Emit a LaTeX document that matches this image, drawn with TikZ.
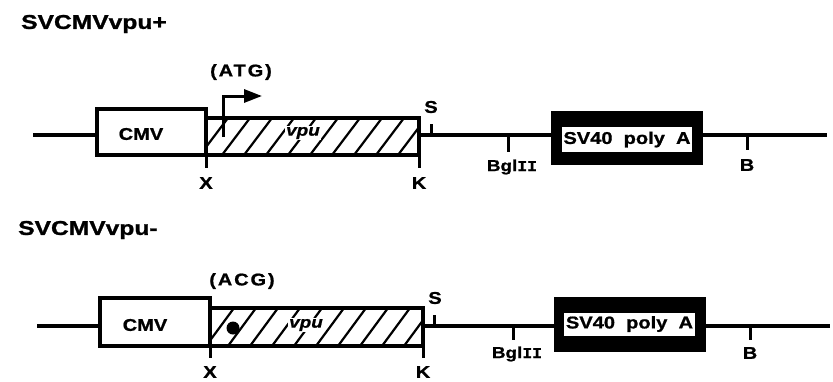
\documentclass[tikz,border=0pt]{standalone}
\usepackage{fontspec}
\usetikzlibrary{arrows.meta,calc}
\newfontfamily\wfA[FakeStretch=1.23,BoldFeatures={FakeBold=1.2}]{Liberation Sans}
\newfontfamily\wfB[FakeStretch=1.18,BoldFeatures={FakeBold=1},BoldItalicFeatures={FakeBold=1}]{Liberation Sans}
\newfontfamily\wfmono[FakeStretch=1.1,BoldFeatures={FakeBold=1}]{Liberation Mono}
\newcommand{\fsz}[1]{\fontsize{#1}{#1}\selectfont}
\tikzset{
  dna/.style={line width=3.5pt},
  tick/.style={line width=3pt},
  box/.style={draw, line width=3.5pt, fill=white, inner sep=0pt, outer sep=0pt},
  lbl/.style={inner sep=0pt, font=\wfB\bfseries\fsz{17}},
  ttl/.style={inner sep=0pt, anchor=west, font=\wfA\bfseries\fsz{20}},
  hatch/.style={line width=2.2pt},
  spaced/.style={inner sep=0pt, font=\wfB\bfseries\fsz{17}\addfontfeature{LetterSpace=11}},
}
\newcommand{\bgl}{Bgl{\wfmono\bfseries\fsz{15}II}}
\begin{document}
\begin{tikzpicture}[x=1pt,y=-1pt]
\useasboundingbox (0,0) rectangle (833,381);
% ---------- top construct ----------
\node[ttl] (t1) at (21,24) {SVCMVvpu+};
\coordinate (L1) at (33,135);
\coordinate (R1) at (827,135);
\draw[dna] (L1) -- (R1);
\node[box, minimum width=109pt, minimum height=46pt] (cmv1) at (151.5,132) {};
\node[lbl] at (141,134) {CMV};
\node[box, minimum width=213pt, minimum height=37pt] (vpu1) at (312.5,136.5) {};
\begin{scope}
  \clip (vpu1.south west) rectangle (vpu1.north east);
  \foreach \i in {0,...,10} {
    \draw[hatch] ($(vpu1.south west)+(\i*22-6,0)$) -- ++(28,-37);
  }
\end{scope}
\node[box, minimum width=213pt, minimum height=37pt, fill=none] at (vpu1.center) {};
\node[lbl, fill=white, inner sep=1pt, font=\wfB\bfseries\itshape\fsz{16}] (vl1) at (303,133) {vpu};
\coordinate (a0) at (223,137);
\coordinate (a2) at (262,96);
\draw[line width=3pt, -{Triangle[length=18pt,width=13pt]}] (a0) |- (a2);
\node[spaced] (atg) at (241,72) {(ATG)};
% ticks
\coordinate (x1) at (206,168);
\draw[tick] (vpu1.south west) -- (x1);
\node[lbl] (xl1) at (206,183) {X};
\coordinate (k1) at (419,168);
\draw[tick] (vpu1.south east) -- (k1);
\node[lbl] (kl1) at (419,183) {K};
\coordinate (s1a) at (431,135);
\coordinate (s1b) at (431,124);
\draw[tick] (s1a) -- (s1b);
\node[lbl] (sl1) at (431,107) {S};
\coordinate (g1a) at (508,135);
\coordinate (g1b) at (508,152);
\draw[tick] (g1a) -- (g1b);
\node[lbl, font=\wfB\bfseries\fsz{16}] (gl1) at (512,167) {\bgl};
\node[fill=black, inner sep=0pt, minimum width=152pt, minimum height=54pt] (sv1) at (627,138) {};
\node[fill=white, inner sep=0pt, minimum width=130pt, minimum height=25pt, font=\wfB\bfseries\fsz{17}] (svt1) at (627,139.5) {SV40\ \ poly\ \ A};
\coordinate (b1a) at (747,135);
\coordinate (b1b) at (747,150);
\draw[tick] (b1a) -- (b1b);
\node[lbl] (bl1) at (747,165) {B};
% ---------- bottom construct ----------
\node[ttl] (t2) at (18,230) {SVCMVvpu-};
\coordinate (L2) at (37,326);
\coordinate (R2) at (830,326);
\draw[dna] (L2) -- (R2);
\node[box, minimum width=110pt, minimum height=48pt] (cmv2) at (155,322) {};
\node[lbl] at (145,325) {CMV};
\node[box, minimum width=213pt, minimum height=38pt] (vpu2) at (316.5,327) {};
\begin{scope}
  \clip (vpu2.south west) rectangle (vpu2.north east);
  \foreach \i in {0,...,10} {
    \draw[hatch] ($(vpu2.south west)+(\i*22-4,0)$) -- ++(28,-38);
  }
\end{scope}
\node[box, minimum width=213pt, minimum height=38pt, fill=none] at (vpu2.center) {};
\node[lbl, fill=white, inner sep=1pt, font=\wfB\bfseries\itshape\fsz{16}] (vl2) at (306,325) {vpu};
\node[circle, fill=black, inner sep=0pt, minimum size=13pt] (dot) at (233,328) {};
\node[spaced] (acg) at (242,281) {(ACG)};
\coordinate (x2) at (210,358);
\draw[tick] (vpu2.south west) -- (x2);
\node[lbl] (xl2) at (210,372) {X};
\coordinate (k2) at (423,358);
\draw[tick] (vpu2.south east) -- (k2);
\node[lbl] (kl2) at (423,372) {K};
\coordinate (s2a) at (434,326);
\coordinate (s2b) at (434,315);
\draw[tick] (s2a) -- (s2b);
\node[lbl] (sl2) at (435,298) {S};
\coordinate (g2a) at (513,326);
\coordinate (g2b) at (513,340);
\draw[tick] (g2a) -- (g2b);
\node[lbl, font=\wfB\bfseries\fsz{16}] (gl2) at (517,354) {\bgl};
\node[fill=black, inner sep=0pt, minimum width=152pt, minimum height=55pt] (sv2) at (630,324.5) {};
\node[fill=white, inner sep=0pt, minimum width=131pt, minimum height=23pt, font=\wfB\bfseries\fsz{17}] (svt2) at (629.5,324) {SV40\ \ poly\ \ A};
\coordinate (b2a) at (750,326);
\coordinate (b2b) at (750,340);
\draw[tick] (b2a) -- (b2b);
\node[lbl] (bl2) at (750,353) {B};
\end{tikzpicture}
\end{document}
